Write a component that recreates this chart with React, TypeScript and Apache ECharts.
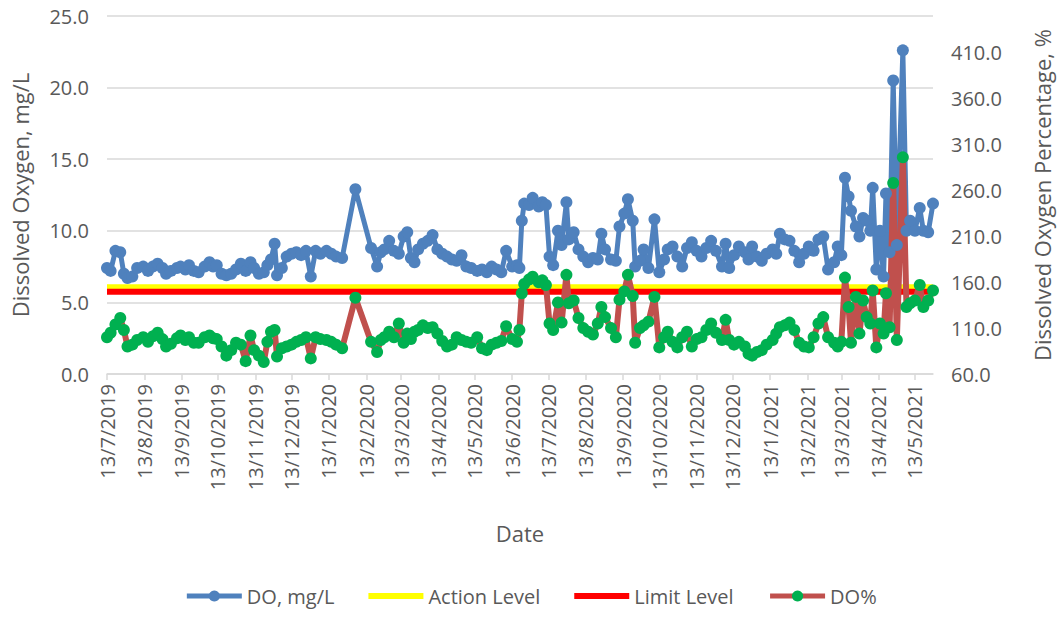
import React, { useEffect, useRef } from "react";
import * as echarts from "echarts";

const dates: string[] = [
  "2019-07-13","2019-07-16","2019-07-20","2019-07-24","2019-07-27","2019-07-30","2019-08-03","2019-08-07","2019-08-12","2019-08-16",
  "2019-08-20","2019-08-24","2019-08-28","2019-08-31","2019-09-04","2019-09-09","2019-09-12","2019-09-16","2019-09-19","2019-09-23",
  "2019-09-27","2019-10-02","2019-10-06","2019-10-09","2019-10-12","2019-10-16","2019-10-20","2019-10-24","2019-10-28","2019-11-01",
  "2019-11-05","2019-11-09","2019-11-12","2019-11-16","2019-11-20","2019-11-23","2019-11-26","2019-11-29","2019-12-01","2019-12-05",
  "2019-12-09","2019-12-13","2019-12-17","2019-12-21","2019-12-25","2019-12-29","2020-01-02","2020-01-06","2020-01-11","2020-01-15",
  "2020-01-19","2020-01-24","2020-02-04","2020-02-17","2020-02-22","2020-02-25","2020-02-28","2020-03-03","2020-03-07","2020-03-11",
  "2020-03-15","2020-03-18","2020-03-21","2020-03-24","2020-03-27","2020-03-31","2020-04-04","2020-04-08","2020-04-12","2020-04-16",
  "2020-04-20","2020-04-24","2020-04-28","2020-05-02","2020-05-06","2020-05-10","2020-05-15","2020-05-19","2020-05-23","2020-05-27",
  "2020-05-31","2020-06-04","2020-06-08","2020-06-13","2020-06-17","2020-06-19","2020-06-21","2020-06-23","2020-06-27","2020-06-30",
  "2020-07-05","2020-07-08","2020-07-11","2020-07-14","2020-07-17","2020-07-21","2020-07-24","2020-07-28","2020-07-30","2020-08-03",
  "2020-08-07","2020-08-11","2020-08-15","2020-08-19","2020-08-23","2020-08-26","2020-08-29","2020-09-03","2020-09-07","2020-09-10",
  "2020-09-14","2020-09-17","2020-09-21","2020-09-23","2020-09-27","2020-09-30","2020-10-04","2020-10-09","2020-10-13","2020-10-17",
  "2020-10-20","2020-10-24","2020-10-28","2020-11-01","2020-11-05","2020-11-09","2020-11-13","2020-11-17","2020-11-21","2020-11-25",
  "2020-11-29","2020-12-04","2020-12-07","2020-12-10","2020-12-14","2020-12-18","2020-12-23","2020-12-26","2020-12-29","2021-01-02",
  "2021-01-06","2021-01-10","2021-01-15","2021-01-18","2021-01-21","2021-01-25","2021-01-29","2021-02-02","2021-02-06","2021-02-10",
  "2021-02-14","2021-02-18","2021-02-22","2021-02-26","2021-03-02","2021-03-07","2021-03-10","2021-03-13","2021-03-16","2021-03-19",
  "2021-03-21","2021-03-25","2021-03-28","2021-03-31","2021-04-03","2021-04-06","2021-04-08","2021-04-11","2021-04-14","2021-04-17",
  "2021-04-19","2021-04-22","2021-04-25","2021-04-28","2021-05-03","2021-05-06","2021-05-09","2021-05-13","2021-05-17","2021-05-20",
  "2021-05-24","2021-05-28",
];

const doMgL: number[] = [
  7.4,7.2,8.6,8.5,7.0,6.7,6.8,7.4,7.5,7.2,
  7.5,7.7,7.4,7.0,7.2,7.4,7.5,7.3,7.6,7.2,
  7.1,7.5,7.8,7.5,7.6,7.0,6.9,7.0,7.3,7.7,
  7.2,7.8,7.4,7.0,7.1,7.6,8.0,9.1,6.9,7.4,
  8.2,8.4,8.5,8.3,8.6,6.8,8.6,8.4,8.6,8.4,
  8.2,8.1,12.9,8.8,7.5,8.5,8.7,9.3,8.6,8.4,
  9.6,9.9,8.1,7.8,8.7,9.1,9.3,9.7,8.7,8.4,
  8.2,8.0,7.9,8.3,7.5,7.4,7.2,7.3,7.1,7.5,
  7.3,7.1,8.6,7.5,7.6,7.4,10.7,11.9,11.8,12.3,
  11.7,12.0,11.8,8.2,7.6,10.0,9.0,12.0,9.4,9.9,
  8.7,8.2,7.8,8.1,8.0,9.8,8.7,8.0,7.9,10.3,
  11.2,12.2,10.7,7.5,7.9,8.7,7.4,10.8,7.1,8.0,
  8.7,8.9,8.2,7.5,8.8,9.2,8.6,8.2,8.8,9.3,
  8.6,7.5,9.1,7.4,8.3,8.9,8.5,8.0,8.9,8.2,
  7.9,8.4,8.7,8.4,9.8,9.4,9.3,8.6,7.8,8.4,
  8.9,8.6,9.4,9.6,7.3,7.8,8.9,8.3,13.7,12.4,
  11.4,10.3,9.6,10.9,10.7,10.0,13.0,7.3,10.0,6.8,
  12.6,8.5,20.5,9.0,22.6,10.0,10.7,10.0,11.6,10.0,
  9.9,11.9,
];

const doPct: number[] = [
  100,105,114,121,108,90,92,97,100,95,
  101,105,98,90,93,99,102,97,100,94,
  94,100,102,99,98,90,80,86,94,92,
  74,102,86,80,73,95,106,108,79,88,
  90,92,95,97,100,77,100,98,97,95,
  92,88,143,95,84,97,100,106,100,115,
  94,104,98,106,108,113,110,111,104,96,
  90,92,100,97,95,94,100,88,86,92,
  94,96,112,98,95,108,148,158,163,166,
  160,162,157,115,108,138,116,168,137,140,
  121,110,106,103,115,133,122,110,100,141,
  150,168,145,94,110,113,117,144,89,100,
  106,95,89,100,106,90,98,100,108,115,
  105,97,119,97,92,95,90,82,80,84,
  86,92,97,104,111,113,116,108,94,90,
  89,100,115,122,100,94,90,95,165,133,
  94,144,104,140,122,115,151,89,115,104,
  148,111,268,97,296,133,137,140,157,133,
  140,151,
];

const actionLevel = 6.05;
const limitLevel = 5.75;
const monthTicks: string[] = [
  "2019-07-13","2019-08-13","2019-09-13","2019-10-13","2019-11-13","2019-12-13",
  "2020-01-13","2020-02-13","2020-03-13","2020-04-13","2020-05-13","2020-06-13",
  "2020-07-13","2020-08-13","2020-09-13","2020-10-13","2020-11-13","2020-12-13",
  "2021-01-13","2021-02-13","2021-03-13","2021-04-13","2021-05-13",
];
const rightTicks: number[] = [60, 110, 160, 210, 260, 310, 360, 410];

const toTs = (s: string) => {
  const [y, m, d] = s.split("-").map(Number);
  return new Date(y, m - 1, d).getTime();
};
const fmtDate = (v: number) => {
  const d = new Date(v);
  return `${d.getDate()}/${d.getMonth() + 1}/${d.getFullYear()}`;
};

const FONT = "Open Sans";
const TXT = "#595959";
const GRID = "#D9D9D9";
const BAR_ICON = "path://M0,0 L55,0 L55,6 L0,6 Z";

export default function App() {
  const ref = useRef<HTMLDivElement>(null);
  useEffect(() => {
    if (!ref.current) return;
    const chart = echarts.init(ref.current, undefined, { renderer: "svg" });
    const xs = dates.map(toTs);
    const xMin = xs[0];
    const xMax = xs[xs.length - 1];
    const ticks = monthTicks.map(toTs);
    chart.setOption({
      animation: false,
      textStyle: { fontFamily: FONT },
      grid: { left: 107, right: 121, top: 16, bottom: 245 },
      legend: {
        bottom: 8,
        left: "center",
        itemWidth: 55,
        itemHeight: 14,
        itemGap: 34,
        lineStyle: { width: 5 },
        textStyle: { fontSize: 20, color: TXT, fontFamily: FONT },
        data: [
          { name: "DO, mg/L" },
          { name: "Action Level", icon: BAR_ICON },
          { name: "Limit Level", icon: BAR_ICON },
          { name: "DO%" },
        ],
      },
      xAxis: {
        type: "value",
        min: xMin,
        max: xMax,
        name: "Date",
        nameLocation: "middle",
        nameGap: 148,
        nameTextStyle: { fontSize: 22, color: TXT, fontFamily: FONT },
        axisLine: { show: true, lineStyle: { color: GRID, width: 1.5 } },
        axisTick: { show: true, length: 6, customValues: ticks, lineStyle: { color: GRID, width: 1.5 } },
        axisLabel: {
          customValues: ticks,
          rotate: 90,
          margin: 10,
          fontSize: 20,
          color: TXT,
          fontFamily: FONT,
          formatter: (v: number) => fmtDate(v),
        },
        splitLine: { show: false },
      },
      yAxis: [
        {
          type: "value",
          min: 0,
          max: 25,
          interval: 5,
          name: "Dissolved Oxygen, mg/L",
          nameLocation: "middle",
          nameGap: 76,
          nameTextStyle: { fontSize: 22, color: TXT, fontFamily: FONT },
          axisLine: { show: false },
          axisTick: { show: false },
          axisLabel: { fontSize: 20, color: TXT, margin: 18, fontFamily: FONT, formatter: (v: number) => v.toFixed(1) },
          splitLine: { show: true, lineStyle: { color: GRID, width: 1.5 } },
        },
        {
          type: "value",
          position: "right",
          min: 60,
          max: 450,
          name: "Dissolved Oxygen Percentage, %",
          nameLocation: "middle",
          nameGap: 98,
          nameTextStyle: { fontSize: 22, color: TXT, fontFamily: FONT },
          axisLine: { show: false },
          axisTick: { show: false },
          axisLabel: {
            customValues: rightTicks,
            fontSize: 20,
            color: TXT,
            margin: 18,
            fontFamily: FONT,
            formatter: (v: number) => v.toFixed(1),
          },
          splitLine: { show: false },
        },
      ],
      series: [
        {
          name: "DO, mg/L",
          type: "line",
          yAxisIndex: 0,
          data: xs.map((x, i) => [x, doMgL[i]]),
          symbol: "circle",
          symbolSize: 12,
          showSymbol: true,
          lineStyle: { color: "#4F81BD", width: 5 },
          itemStyle: { color: "#4F81BD" },
        },
        {
          name: "Action Level",
          type: "line",
          yAxisIndex: 0,
          data: [[xMin, actionLevel], [xMax, actionLevel]],
          symbol: "none",
          lineStyle: { color: "#FFFF00", width: 6 },
          itemStyle: { color: "#FFFF00" },
        },
        {
          name: "Limit Level",
          type: "line",
          yAxisIndex: 0,
          data: [[xMin, limitLevel], [xMax, limitLevel]],
          symbol: "none",
          lineStyle: { color: "#FF0000", width: 6 },
          itemStyle: { color: "#FF0000" },
        },
        {
          name: "DO%",
          type: "line",
          yAxisIndex: 1,
          data: xs.map((x, i) => [x, doPct[i]]),
          symbol: "circle",
          symbolSize: 12,
          showSymbol: true,
          lineStyle: { color: "#C0504D", width: 6 },
          itemStyle: { color: "#00B050" },
        },
      ],
    });
    return () => chart.dispose();
  }, []);
  return (
    <div
      ref={ref}
      style={{ position: "fixed", left: 0, top: 0, width: 1061, height: 619, background: "#fff" }}
    />
  );
}
